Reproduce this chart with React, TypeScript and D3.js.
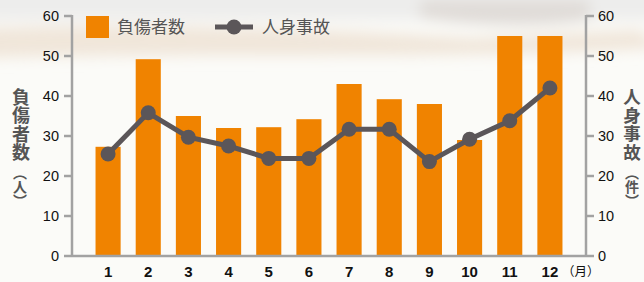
import React, { useRef, useEffect } from "react";
import * as d3 from "d3";

// data
const months = ["1", "2", "3", "4", "5", "6", "7", "8", "9", "10", "11", "12"];
const injured = [27.3, 49.2, 35, 32, 32.2, 34.2, 43, 39.2, 38, 29, 55, 55];
const accidents = [25.5, 35.8, 29.7, 27.5, 24.4, 24.4, 31.7, 31.7, 23.6, 29.2, 33.8, 42];
const yTicks = [0, 10, 20, 30, 40, 50, 60];
const leftTitle = "負傷者数";
const rightTitle = "人身事故";

const W = 644;
const H = 282;

const App = () => {
  const svgRef = useRef<SVGSVGElement | null>(null);

  useEffect(() => {
    const svg = d3.select(svgRef.current);
    svg.selectAll("*").remove();

    const orange = "#f08300";
    const lineColor = "#5b5659";
    const axisColor = "#a2a2a2";
    const textGray = "#555";

    const x0 = 72;
    const x1 = 586;

    const xScale = d3
      .scaleBand<string>()
      .domain(months)
      .range([88, 570])
      .paddingInner(0.375)
      .paddingOuter(0.1875);

    const yLeft = d3.scaleLinear().domain([0, 60]).range([256, 16]);
    const yRight = d3.scaleLinear().domain([0, 60]).range([256, 16]);

    // background
    const defs = svg.append("defs");
    defs
      .append("filter")
      .attr("id", "blur")
      .attr("x", "-20%")
      .attr("y", "-50%")
      .attr("width", "140%")
      .attr("height", "200%")
      .append("feGaussianBlur")
      .attr("stdDeviation", 7);

    svg.append("rect").attr("width", W).attr("height", H).attr("fill", "#fbfbf8");
    const bg = svg.append("g").attr("filter", "url(#blur)");
    bg.append("rect").attr("x", -20).attr("y", -20).attr("width", 700).attr("height", 40).attr("fill", "#ededec");
    bg.append("path")
      .attr("d", "M-20,28 C150,22 350,30 470,38 L640,30 L660,48 C450,60 250,52 -20,58 Z")
      .attr("fill", "#eee3d5")
      .attr("opacity", 0.85);
    bg.append("path")
      .attr("d", "M420,0 L590,0 L590,20 C540,28 470,26 420,18 Z")
      .attr("fill", "#e0dcd8");

    // bars
    svg
      .append("g")
      .selectAll("rect")
      .data(injured)
      .enter()
      .append("rect")
      .attr("x", (_, i) => xScale(months[i]) as number)
      .attr("y", (d) => yLeft(d))
      .attr("width", xScale.bandwidth())
      .attr("height", (d) => yLeft(0) - yLeft(d))
      .attr("fill", orange);

    // axes
    const axisG = svg.append("g");
    axisG.append("line").attr("x1", x0).attr("x2", x0).attr("y1", yLeft(60) - 1).attr("y2", yLeft(0)).attr("stroke", axisColor).attr("stroke-width", 2.5);
    axisG.append("line").attr("x1", x1).attr("x2", x1).attr("y1", yRight(60) - 1).attr("y2", yRight(0)).attr("stroke", axisColor).attr("stroke-width", 2.5);
    axisG.append("line").attr("x1", x0).attr("x2", x1).attr("y1", yLeft(0)).attr("y2", yLeft(0)).attr("stroke", axisColor).attr("stroke-width", 2.5);

    yTicks.forEach((t) => {
      axisG.append("line").attr("x1", x0 - 8).attr("x2", x0).attr("y1", yLeft(t)).attr("y2", yLeft(t)).attr("stroke", axisColor).attr("stroke-width", 2.5);
      axisG.append("line").attr("x1", x1).attr("x2", x1 + 8).attr("y1", yRight(t)).attr("y2", yRight(t)).attr("stroke", axisColor).attr("stroke-width", 2.5);
      axisG.append("text").attr("x", x0 - 13).attr("y", yLeft(t) + 5).attr("text-anchor", "end").attr("font-size", 14.5).attr("fill", "#111").text(t);
      axisG.append("text").attr("x", x1 + 12).attr("y", yRight(t) + 5).attr("text-anchor", "start").attr("font-size", 14.5).attr("fill", "#111").text(t);
    });

    // month labels
    svg
      .append("g")
      .selectAll("text")
      .data(months)
      .enter()
      .append("text")
      .attr("x", (d) => (xScale(d) as number) + xScale.bandwidth() / 2)
      .attr("y", 277)
      .attr("text-anchor", "middle")
      .attr("font-size", 15)
      .attr("font-weight", "bold")
      .attr("fill", "#111")
      .text((d) => d);
    svg
      .append("text")
      .attr("x", (xScale("12") as number) + xScale.bandwidth() / 2 + 12)
      .attr("y", 276)
      .attr("font-size", 12.5)
      .attr("font-family", "'Noto Sans CJK JP', sans-serif")
      .attr("fill", "#111")
      .text("（月）");

    // line
    const lineGenerator = d3
      .line<number>()
      .x((_, i) => (xScale(months[i]) as number) + xScale.bandwidth() / 2)
      .y((d) => yRight(d));

    svg
      .append("path")
      .datum(accidents)
      .attr("fill", "none")
      .attr("stroke", lineColor)
      .attr("stroke-width", 5)
      .attr("d", lineGenerator);

    svg
      .append("g")
      .selectAll("circle")
      .data(accidents)
      .enter()
      .append("circle")
      .attr("cx", (_, i) => (xScale(months[i]) as number) + xScale.bandwidth() / 2)
      .attr("cy", (d) => yRight(d))
      .attr("r", 7.5)
      .attr("fill", lineColor);

    // legend
    const lg = svg.append("g").attr("font-family", "'Noto Sans CJK JP', sans-serif").attr("font-size", 17).attr("fill", textGray);
    lg.append("rect").attr("x", 86).attr("y", 16).attr("width", 23).attr("height", 22).attr("fill", orange);
    lg.append("text").attr("x", 117).attr("y", 33).text("負傷者数");
    lg.append("line").attr("x1", 215).attr("x2", 253).attr("y1", 27).attr("y2", 27).attr("stroke", lineColor).attr("stroke-width", 5);
    lg.append("circle").attr("cx", 234).attr("cy", 27).attr("r", 7.5).attr("fill", lineColor);
    lg.append("text").attr("x", 262).attr("y", 33).text("人身事故");

    // axis titles (vertical)
    const titles = svg
      .append("g")
      .attr("font-family", "'Noto Sans CJK JP', sans-serif")
      .attr("fill", textGray)
      .attr("font-weight", "bold");
    titles.append("text").attr("x", 21).attr("y", 88).attr("style", "writing-mode: vertical-rl").attr("font-size", 18).attr("letter-spacing", 0.5).text(leftTitle);
    titles.append("text").attr("x", 632).attr("y", 88).attr("style", "writing-mode: vertical-rl").attr("font-size", 17.5).attr("letter-spacing", 1).text(rightTitle);
    titles.append("text").attr("x", 20).attr("y", 166).attr("style", "writing-mode: vertical-rl").attr("font-size", 14).text("（人）");
    titles.append("text").attr("x", 632).attr("y", 166).attr("style", "writing-mode: vertical-rl").attr("font-size", 14).text("（件）");
  }, []);

  return (
    <svg
      ref={svgRef}
      width={W}
      height={H}
      style={{ position: "fixed", left: 0, top: 0, fontFamily: "'Liberation Sans', Arial, sans-serif" }}
    />
  );
};

export default App;
